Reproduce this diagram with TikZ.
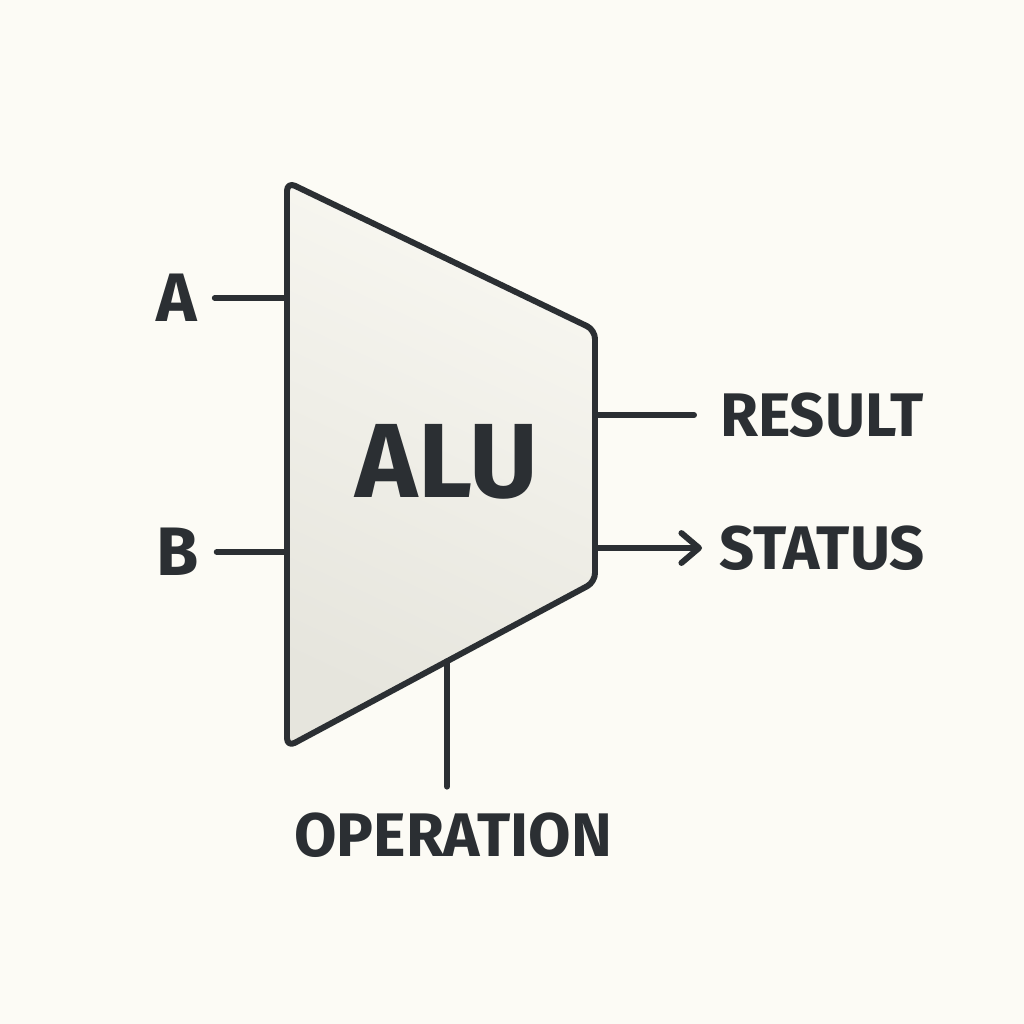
\documentclass[tikz,border=0pt]{standalone}
\usepackage{fontspec}
\setmainfont{Fira Sans}
\usepackage{tikz}
\usetikzlibrary{calc,arrows.meta}
\definecolor{ink}{HTML}{2B2F33}
\definecolor{paper}{HTML}{FCFBF5}
\definecolor{aluLight}{HTML}{F8F7F1}
\definecolor{aluDark}{HTML}{E6E5DD}

\tikzset{
  wire/.style = {draw = ink, line width = 1.7pt, line cap = round},
  lbl/.style = {font = \bfseries\fontsize{17.5}{20}\selectfont, text = ink, inner sep = 0pt},
  inlbl/.style = {font = \bfseries\fontsize{19.5}{22}\selectfont, text = ink, inner sep = 0pt}
}

\begin{document}
\begin{tikzpicture}[x = .01cm, y = -.01cm]
\fill[paper] (0,0) rectangle (1024,1024);
\useasboundingbox (0,0) rectangle (1024,1024);

% corners of the block
\coordinate (tl) at (287,182);
\coordinate (bl) at (287,747);
\coordinate (tr) at (595,330);
\coordinate (br) at (595,582);

% ports
\coordinate (inA) at (287,298);
\coordinate (inB) at (287,552);
\coordinate (outR) at (595,415);
\coordinate (outS) at (595,548);
\coordinate (inOp) at ($(bl)!{160/308}!(br)$);

\shade[top color = aluLight, bottom color = aluDark, shading angle = -25, rounded corners = 2.5pt]
  (tl) -- (tr) -- (br) -- (bl) -- cycle;
\draw[wire, line join = round, rounded corners = 2.5pt] (tl) -- (tr) -- (br) -- (bl) -- cycle;

\node[inlbl, font = \bfseries\fontsize{30}{34}\selectfont] (alu) at (447,462) {ALU};

\node[inlbl, outer sep = 5pt] (a) at (177,298) {A};
\node[inlbl, outer sep = 5pt] (b) at (178,552) {B};
\node[lbl, anchor = west, outer sep = 7.4pt] (result) at (694,415) {RESULT};
\node[lbl, anchor = west, outer sep = 5pt] (status) at (702,548) {STATUS};
\node[lbl, outer sep = 7.4pt] (op) at (453,835) {OPERATION};

\draw[wire] (a) -- (inA);
\draw[wire] (b) -- (inB);
\draw[wire] (outR) -- (result);
\draw[wire, -{Straight Barb[length = 5pt, width = 8.5pt, line cap = round, line join = round]}] (outS) -- (status);
\draw[wire] (inOp) -- (op.north -| inOp);
\end{tikzpicture}
\end{document}
